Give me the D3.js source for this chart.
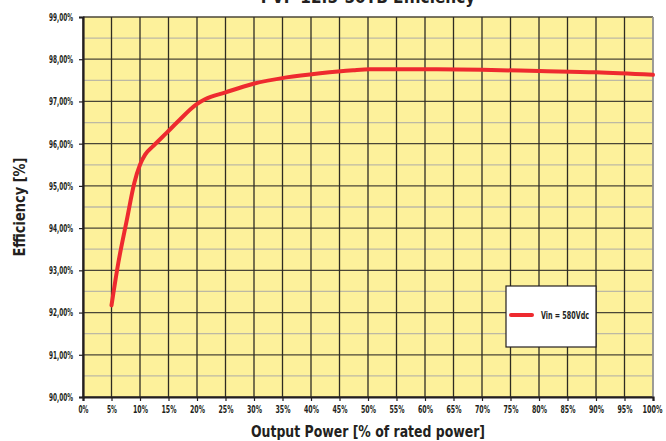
<!DOCTYPE html>
<html>
<head>
<meta charset="utf-8">
<script src="https://cdnjs.cloudflare.com/ajax/libs/d3/7.8.5/d3.min.js"></script>
<style>
  body { margin: 0; background: #fff; }
  text { font-family: "Liberation Sans Narrow", "DejaVu Sans Condensed", "Roboto", sans-serif; }
</style>
</head>
<body>
<script>
const margin = {top: 17, bottom: 44, left: 83, right: 13};
const W = 666, H = 441;
const width = W - margin.left - margin.right,
    height = H - margin.top - margin.bottom;

// load in % of rated power, efficiency in %
const load = [5, 6.2, 7.7, 9, 10, 10.9, 12.3, 14.7, 16.7, 19.9, 21.4, 24.9, 29.9, 35.7, 41.6, 47.4, 50.3, 56, 62, 70, 80, 90, 100];
const efficiency = [92.17, 93.18, 94.2, 95.07, 95.5, 95.74, 95.94, 96.26, 96.53, 96.93, 97.05, 97.21, 97.42, 97.57, 97.67, 97.74, 97.76, 97.76, 97.76, 97.75, 97.72, 97.69, 97.63];
const xTicks = d3.range(0, 101, 5);
const yTicks = d3.range(90, 99.01, 1);
const yMinor = d3.range(90.5, 99, 1);
const legendLabel = 'Vin = 580Vdc';

// squeeze text to a condensed look
const squeeze = (sel, perChar) => sel
    .attr('textLength', function() { return this.textContent.length * perChar; })
    .attr('lengthAdjust', 'spacingAndGlyphs');

const draw = () => {
    const svg = d3.select('body')
        .append('svg')
        .attr('width', W)
        .attr('height', H);

    const g = svg.append('g')
        .attr('transform', 'translate(' + margin.left + ', ' + margin.top + ')');

    const scaleX = d3.scaleLinear().domain([0, 100]).range([0, width]);
    const scaleY = d3.scaleLinear().domain([90, 99]).range([height, 0]);

    g.append('rect')
        .attr('width', width)
        .attr('height', height)
        .attr('fill', '#fdf19b');

    // minor horizontal grid
    g.selectAll('.minor')
        .data(yMinor)
        .enter()
        .append('line')
        .attr('x1', 0).attr('x2', width)
        .attr('y1', d => scaleY(d)).attr('y2', d => scaleY(d))
        .attr('stroke', '#bdb9a4')
        .attr('stroke-width', 1.3);

    // major horizontal grid
    g.selectAll('.hmajor')
        .data(yTicks)
        .enter()
        .append('line')
        .attr('x1', 0).attr('x2', width)
        .attr('y1', d => scaleY(d)).attr('y2', d => scaleY(d))
        .attr('stroke', '#4a4637')
        .attr('stroke-width', 1.3);

    // vertical grid
    g.selectAll('.vmajor')
        .data(xTicks)
        .enter()
        .append('line')
        .attr('y1', 0).attr('y2', height)
        .attr('x1', d => scaleX(d)).attr('x2', d => scaleX(d))
        .attr('stroke', '#2f2c22')
        .attr('stroke-width', 1.3);

    // frame
    g.append('line').attr('x1', width).attr('x2', width).attr('y1', 0).attr('y2', height)
        .attr('stroke', '#aaa').attr('stroke-width', 1.5);

    const x_axis = d3.axisBottom(scaleX)
        .tickValues(xTicks)
        .tickSize(4)
        .tickFormat(d => d + '%');

    const y_axis = d3.axisLeft(scaleY)
        .tickValues(yTicks)
        .tickSize(4)
        .tickFormat(d => d3.format('.2f')(d).replace('.', ',') + '%');

    const gX = g.append('g')
        .attr('transform', 'translate(0, ' + height + ')')
        .call(x_axis);
    const gY = g.append('g').call(y_axis);

    [gX, gY].forEach(ax => {
        ax.select('.domain').attr('stroke', '#231f20').attr('stroke-width', 2.2);
        ax.selectAll('.tick line').attr('stroke', '#231f20').attr('stroke-width', 1.2);
        ax.selectAll('.tick text')
            .attr('fill', '#231f20')
            .style('font-size', '10.5px')
            .style('font-weight', 'bold');
    });
    gX.selectAll('.tick text').attr('dy', '0.85em');
    squeeze(gX.selectAll('.tick text'), 5.0);
    // last label kept inside the page
    gX.selectAll('.tick text').filter(d => d === 100).attr('text-anchor', 'end').attr('x', 9);
    gY.selectAll('.tick text').attr('x', -10);
    squeeze(gY.selectAll('.tick text'), 4.0);

    // curve
    const line = d3.line()
        .x((d, i) => scaleX(load[i]))
        .y(d => scaleY(d))
        .curve(d3.curveMonotoneX);

    g.append('path')
        .datum(efficiency)
        .attr('d', line)
        .attr('fill', 'none')
        .attr('stroke', '#ee2a2f')
        .attr('stroke-width', 4)
        .attr('stroke-linecap', 'round');

    // legend
    const lg = svg.append('g').attr('transform', 'translate(506, 286)');
    lg.append('rect')
        .attr('width', 90).attr('height', 61)
        .attr('fill', '#fff')
        .attr('stroke', '#231f20')
        .attr('stroke-width', 1.2);
    lg.append('line')
        .attr('x1', 5).attr('x2', 26).attr('y1', 29).attr('y2', 29)
        .attr('stroke', '#ee2a2f').attr('stroke-width', 4)
        .attr('stroke-linecap', 'round');
    lg.append('text')
        .attr('x', 35).attr('y', 32.5)
        .attr('fill', '#231f20')
        .style('font-size', '11px')
        .style('font-weight', 'bold')
        .attr('textLength', 48)
        .attr('lengthAdjust', 'spacingAndGlyphs')
        .text(legendLabel);

    // titles
    svg.append('text')
        .attr('x', margin.left + width / 2)
        .attr('y', 3)
        .attr('text-anchor', 'middle')
        .attr('fill', '#231f20')
        .style('font-size', '17px')
        .style('font-weight', 'bold')
        .text('PVP 12.5-50TB Efficiency');

    svg.append('text')
        .attr('x', margin.left + width / 2)
        .attr('y', 437)
        .attr('text-anchor', 'middle')
        .attr('fill', '#231f20')
        .style('font-size', '16px')
        .style('font-weight', 'bold')
        .attr('textLength', 234)
        .attr('lengthAdjust', 'spacingAndGlyphs')
        .text('Output Power [% of rated power]');

    svg.append('text')
        .attr('transform', 'translate(25, ' + (margin.top + height / 2) + ') rotate(-90)')
        .attr('text-anchor', 'middle')
        .attr('fill', '#231f20')
        .style('font-size', '16px')
        .style('font-weight', 'bold')
        .attr('textLength', 99)
        .attr('lengthAdjust', 'spacingAndGlyphs')
        .text('Efficiency [%]');
};

draw();
</script>
</body>
</html>
